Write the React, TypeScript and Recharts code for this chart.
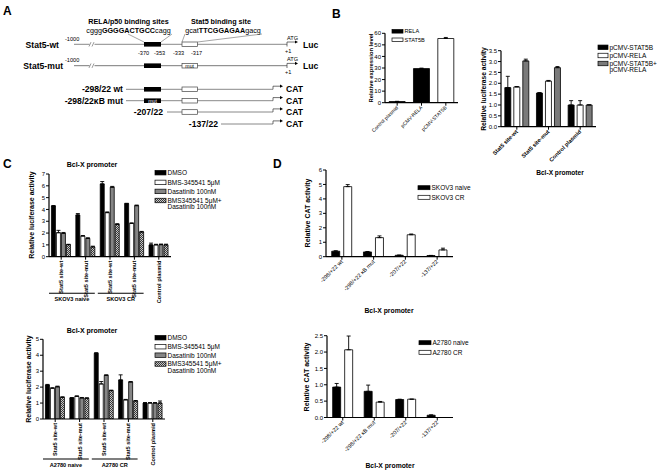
import React from 'react';
import { BarChart, Bar, XAxis, YAxis, ErrorBar, Cell } from 'recharts';

const FONT = 'Arial, "Liberation Sans", Helvetica, sans-serif';

// ---------- Panel B (left): expression ----------
const bLeftCategories = ['Control plasmid', 'pCMV-RELA', 'pCMV-STAT5B'];
const bLeftValues = [1.0, 29.5, 55.5];
const bLeftErrors = [0.2, 0.4, 0.9];
const bLeftTicks = [0, 10, 20, 30, 40, 50, 60];
const bLeftLegend = ['RELA', 'STAT5B'];

// ---------- Panel B (right): luciferase ----------
const bRightCategories = ['Stat5 site-wt', 'Stat5 site-mut', 'Control plasmid'];
const bRightStat5b = [1.8, 1.55, 1.0];
const bRightStat5bErr = [0.52, 0.02, 0.2];
const bRightRela = [1.83, 2.1, 1.0];
const bRightRelaErr = [0.02, 0.03, 0.2];
const bRightBoth = [3.03, 2.72, 1.0];
const bRightBothErr = [0.08, 0.05, 0.01];
const bRightTicks = [0, 0.5, 1, 1.5, 2, 2.5, 3, 3.5];

// ---------- Panel C ----------
const cCategories = ['Stat5 site-wt', 'Stat5 site-mut', 'Stat5 site-wt', 'Stat5 site-mut', 'Control plasmid'];
const cSeriesNames = ['DMSO', 'BMS-345541 5\u03bcM', 'Dasatinib 100nM', 'BMS345541 5\u03bcM+|Dasatinib 100nM'];
const cSkovGroups = ['SKOV3 naive', 'SKOV3 CR'];
const cSkovDmso = [4.29, 3.53, 6.16, 4.49, 1.0];
const cSkovDmsoErr = [0.04, 0.12, 0.2, 0.03, 0.15];
const cSkovBms = [2.03, 1.75, 3.73, 2.82, 1.0];
const cSkovBmsErr = [0.2, 0.04, 0.06, 0.04, 0.05];
const cSkovDas = [1.98, 1.55, 5.88, 4.32, 1.02];
const cSkovDasErr = [0.07, 0.05, 0.07, 0.05, 0.05];
const cSkovCombo = [1.02, 0.83, 2.74, 2.09, 1.0];
const cSkovComboErr = [0.03, 0.06, 0.05, 0.05, 0.06];
const cSkovTicks = [0, 1, 2, 3, 4, 5, 6, 7];

const cA2780Groups = ['A2780 naive', 'A2780 CR'];
const cA2780Dmso = [2.13, 1.32, 4.12, 2.45, 1.0];
const cA2780DmsoErr = [0.04, 0.02, 0.04, 0.32, 0.03];
const cA2780Bms = [1.93, 1.42, 2.2, 1.2, 1.0];
const cA2780BmsErr = [0.03, 0.03, 0.15, 0.03, 0.03];
const cA2780Das = [2.02, 1.32, 2.74, 2.32, 1.0];
const cA2780DasErr = [0.04, 0.03, 0.03, 0.03, 0.03];
const cA2780Combo = [1.36, 1.3, 1.78, 1.13, 1.0];
const cA2780ComboErr = [0.03, 0.03, 0.03, 0.03, 0.13];
const cA2780Ticks = [0, 1, 2, 3, 4, 5];

// ---------- Panel D ----------
const dCategories = ['-298/+22 wt', '-298/+22 \u03baB mut', '-207/+22', '-137/+22'];
const dSkovNames = ['SKOV3 naive', 'SKOV3 CR'];
const dSkovNaive = [0.38, 0.33, 0.1, 0.08];
const dSkovNaiveErr = [0.03, 0.03, 0.01, 0.01];
const dSkovCR = [4.85, 1.32, 1.52, 0.47];
const dSkovCRErr = [0.14, 0.12, 0.05, 0.12];
const dSkovTicks = [0, 1, 2, 3, 4, 5, 6];

const dA2780Names = ['A2780 naive', 'A2780 CR'];
const dA2780Naive = [0.93, 0.8, 0.55, 0.07];
const dA2780NaiveErr = [0.11, 0.19, 0.01, 0.01];
const dA2780CR = [2.07, 0.47, 0.56, 0.0];
const dA2780CRErr = [0.42, 0.02, 0.0, 0.0];
const dA2780Ticks = [0, 0.5, 1, 1.5, 2, 2.5];

const BLACK = '#000000';
const WHITE = '#ffffff';
const GRAY = '#858585';
const CHECK = 'url(#checker)';

type Series = { name: string; values: number[]; errors: number[]; fill: string };

function buildData(n: number, series: Series[]) {
  const rows: any[] = [];
  for (let i = 0; i < n; i++) {
    const row: any = { idx: i };
    series.forEach((s, k) => {
      row['s' + k] = s.values[i];
      row['e' + k] = [0, s.errors[i]];
    });
    rows.push(row);
  }
  return rows;
}

function GroupBarChart(props: any) {
  const { box, plot, yw, xh, n, series, domain, ticks, fmt, tick, catGap, barGap, cellFills } = props;
  const data = buildData(n, series);
  const margin = {
    left: plot.x0 - box.left - yw,
    top: plot.y0 - box.top,
    right: box.left + box.width - plot.x1,
    bottom: box.top + box.height - plot.y1 - xh,
  };
  const axisLine = { stroke: '#000', strokeWidth: 1.2 };
  const tickLine = { stroke: '#000', strokeWidth: 1 };
  return (
    <div style={{ position: 'absolute', left: box.left, top: box.top, width: box.width, height: box.height }}>
      <BarChart width={box.width} height={box.height} data={data} margin={margin} barCategoryGap={catGap} barGap={barGap}>
        <XAxis dataKey="idx" type="category" height={xh} interval={0} tickSize={3} tickMargin={1}
          axisLine={axisLine} tickLine={tickLine} tick={tick} />
        <YAxis type="number" width={yw} domain={domain} ticks={ticks} interval={0} tickSize={3} tickMargin={1}
          axisLine={axisLine} tickLine={tickLine} allowDataOverflow
          tick={{ fill: '#000', fontSize: 6, fontFamily: FONT }} tickFormatter={fmt} />
        {series.map((s: Series, k: number) => (
          <Bar key={k} dataKey={'s' + k} name={s.name} fill={s.fill} stroke="#000" strokeWidth={0.8} isAnimationActive={false}>
            {cellFills ? cellFills.map((f: string, i: number) => <Cell key={i} fill={f} />) : null}
            <ErrorBar dataKey={'e' + k} width={2} stroke="#000" strokeWidth={0.9} direction="y" />
          </Bar>
        ))}
      </BarChart>
    </div>
  );
}

const rotTick = (labels: string[], angle: number, fontSize: number, bold: boolean) => (p: any) => {
  const { x, y, payload } = p;
  return (
    <g transform={`translate(${x},${y})`}>
      <text x={0} y={0} dy={fontSize * 0.35} transform={`rotate(${angle})`} textAnchor="end"
        fontSize={fontSize} fontWeight={bold ? 'bold' : 'normal'} fontFamily={FONT} fill="#000">
        {labels[payload.value]}
      </text>
    </g>
  );
};

const cTick = (labels: string[], groups: string[], half: number, bracketDy: number) => (p: any) => {
  const { x, y, payload } = p;
  const i = payload.value;
  const gi = i === 0 ? 0 : i === 2 ? 1 : -1;
  return (
    <g transform={`translate(${x},${y})`}>
      <text x={0} y={0} dy={2} transform="rotate(-90)" textAnchor="end" fontSize={5.6} fontWeight="bold" fontFamily={FONT} fill="#000">
        {labels[i]}
      </text>
      {gi >= 0 ? (
        <g>
          <line x1={-half} x2={3 * half - 3} y1={bracketDy} y2={bracketDy} stroke="#000" strokeWidth={1.1} />
          <text x={half - 1.5} y={bracketDy + 7.5} textAnchor="middle" fontSize={5.6} fontWeight="bold" fontFamily={FONT} fill="#000">
            {groups[gi]}
          </text>
        </g>
      ) : null}
    </g>
  );
};

function LegendBlock({ x, ys, items, fontSize, swW, swH }: any) {
  return (
    <g>
      {items.map((it: any, i: number) => {
        const lines = it.name.split('|');
        return (
          <g key={i}>
            <rect x={x} y={ys[i] - swH / 2} width={swW} height={swH} fill={it.fill} stroke="#000" strokeWidth={0.7} />
            {lines.map((ln: string, j: number) => (
              <text key={j} x={x + swW + 1.5} y={ys[i] + fontSize * 0.36 + j * fontSize * 1.0} fontSize={fontSize} fill="#000">{ln}</text>
            ))}
          </g>
        );
      })}
    </g>
  );
}

function RotLabel({ x, y, text, size }: any) {
  return (
    <text x={x} y={y} transform={`rotate(-90 ${x} ${y})`} textAnchor="middle" fontSize={size} fontWeight="bold" fill="#000">{text}</text>
  );
}

function Arrow({ x, y, top, len }: any) {
  return (
    <g>
      <path d={`M${x} ${y} V${top} H${x + len}`} fill="none" stroke="#333" strokeWidth={0.7} />
      <polygon points={`${x + len + 3},${top} ${x + len},${top - 1.6} ${x + len},${top + 1.6}`} fill="#000" />
    </g>
  );
}

function Brk({ x, y }: any) {
  return (
    <g>
      <rect x={x - 2.5} y={y - 1.5} width={5} height={3} fill="#fff" />
      <line x1={x - 3} y1={y + 2.2} x2={x - 1} y2={y - 2.2} stroke="#555" strokeWidth={0.6} />
      <line x1={x} y1={y + 2.2} x2={x + 2} y2={y - 2.2} stroke="#555" strokeWidth={0.6} />
    </g>
  );
}

function PanelA() {
  const lc = '#6a6a6a';
  const lab = { fontSize: 8.6, fontWeight: 'bold' as const };
  const small = { fontSize: 5.6 };
  const boxH = 4.6;
  const bk = (y: number) => <rect x={144} y={y - boxH / 2} width={17} height={boxH} fill="#000" />;
  const wb = (y: number) => <rect x={182} y={y - boxH / 2} width={15.5} height={boxH} fill="#fff" stroke="#444" strokeWidth={0.7} />;
  return (
    <g>
      <text x={3} y={15} fontSize={12} fontWeight="bold">A</text>
      <text x={128.5} y={24} textAnchor="middle" fontSize={7.2} fontWeight="bold">RELA/p50 binding sites</text>
      <text x={128.5} y={32.5} textAnchor="middle" fontSize={7.2}>cggg<tspan fontWeight="bold">GGGGACTGCC</tspan>cagg</text>
      <text x={221} y={24} textAnchor="middle" fontSize={7.2} fontWeight="bold">Stat5 binding site</text>
      <text x={223} y={32.5} textAnchor="middle" fontSize={7.2}>gcat<tspan fontWeight="bold">TTCGGAGAA</tspan>gacg</text>
      <line x1={128} y1={34} x2={144} y2={42} stroke={lc} strokeWidth={0.6} />
      <line x1={172} y1={34} x2={161} y2={42} stroke={lc} strokeWidth={0.6} />
      <line x1={185} y1={34} x2={182} y2={42} stroke={lc} strokeWidth={0.6} />
      <line x1={262} y1={34} x2={197.5} y2={42} stroke={lc} strokeWidth={0.6} />

      {/* Stat5-wt */}
      <text x={59} y={47.5} textAnchor="end" {...lab}>Stat5-wt</text>
      <text x={65} y={41} {...small}>-1000</text>
      <line x1={74} y1={44.3} x2={287} y2={44.3} stroke={lc} strokeWidth={0.8} />
      <Brk x={92} y={44.3} />
      {bk(44.3)}
      {wb(44.3)}
      <text x={138} y={55} {...small}>-370</text>
      <text x={154} y={55} {...small}>-353</text>
      <text x={173} y={55} {...small}>-333</text>
      <text x={191} y={55} {...small}>-317</text>
      <text x={287} y={40} {...small}>ATG</text>
      <Arrow x={287} y={46.5} top={42} len={8} />
      <text x={285} y={52.5} {...small}>+1</text>
      <text x={303} y={48} {...lab}>Luc</text>

      {/* Stat5-mut */}
      <text x={63} y={68.7} textAnchor="end" {...lab}>Stat5-mut</text>
      <text x={65} y={62} {...small}>-1000</text>
      <line x1={74} y1={65.7} x2={287} y2={65.7} stroke="#555" strokeWidth={0.8} />
      <Brk x={92} y={65.7} />
      {bk(65.7)}
      {wb(65.7)}
      <text x={189.7} y={67.7} textAnchor="middle" fontSize={5.2}>mut</text>
      <text x={287} y={61.3} {...small}>ATG</text>
      <Arrow x={287} y={68} top={63.4} len={8} />
      <text x={285} y={74} {...small}>+1</text>
      <text x={303} y={69.3} {...lab}>Luc</text>

      {/* CAT constructs */}
      <text x={123} y={92.3} textAnchor="end" {...lab}>-298/22 wt</text>
      <line x1={126} y1={89.3} x2={273} y2={89.3} stroke={lc} strokeWidth={0.8} />
      {bk(89.3)}
      {wb(89.3)}
      <Arrow x={273} y={89.3} top={86.2} len={7} />
      <text x={286} y={92.3} {...lab}>CAT</text>

      <text x={123} y={103.7} textAnchor="end" {...lab}>-298/22<tspan>{'\u03ba'}</tspan>B mut</text>
      <line x1={126} y1={100.7} x2={273} y2={100.7} stroke={lc} strokeWidth={0.8} />
      {bk(100.7)}
      <text x={152.5} y={102.6} textAnchor="middle" fontSize={5.2} fill="#fff">mut</text>
      {wb(100.7)}
      <Arrow x={273} y={100.7} top={97.6} len={7} />
      <text x={286} y={103.7} {...lab}>CAT</text>

      <text x={163} y={115} textAnchor="end" {...lab}>-207/22</text>
      <line x1={167} y1={112} x2={273} y2={112} stroke={lc} strokeWidth={0.8} />
      {wb(112)}
      <Arrow x={273} y={112} top={108.9} len={7} />
      <text x={286} y={115} {...lab}>CAT</text>

      <text x={218} y={127} textAnchor="end" {...lab}>-137/22</text>
      <line x1={221} y1={124} x2={273} y2={124} stroke={lc} strokeWidth={0.8} />
      <Arrow x={273} y={124} top={120.9} len={7} />
      <text x={286} y={127} {...lab}>CAT</text>
    </g>
  );
}

export default function App() {
  const bRightSeries: Series[] = [
    { name: 'pCMV-STAT5B', values: bRightStat5b, errors: bRightStat5bErr, fill: BLACK },
    { name: 'pCMV-RELA', values: bRightRela, errors: bRightRelaErr, fill: WHITE },
    { name: 'pCMV-STAT5B+|pCMV-RELA', values: bRightBoth, errors: bRightBothErr, fill: '#7a7a7a' },
  ];
  const cFills = [BLACK, WHITE, GRAY, CHECK];
  const cSkovSeries: Series[] = [
    { name: cSeriesNames[0], values: cSkovDmso, errors: cSkovDmsoErr, fill: cFills[0] },
    { name: cSeriesNames[1], values: cSkovBms, errors: cSkovBmsErr, fill: cFills[1] },
    { name: cSeriesNames[2], values: cSkovDas, errors: cSkovDasErr, fill: cFills[2] },
    { name: cSeriesNames[3], values: cSkovCombo, errors: cSkovComboErr, fill: cFills[3] },
  ];
  const cA2780Series: Series[] = [
    { name: cSeriesNames[0], values: cA2780Dmso, errors: cA2780DmsoErr, fill: cFills[0] },
    { name: cSeriesNames[1], values: cA2780Bms, errors: cA2780BmsErr, fill: cFills[1] },
    { name: cSeriesNames[2], values: cA2780Das, errors: cA2780DasErr, fill: cFills[2] },
    { name: cSeriesNames[3], values: cA2780Combo, errors: cA2780ComboErr, fill: cFills[3] },
  ];
  const dSkovSeries: Series[] = [
    { name: dSkovNames[0], values: dSkovNaive, errors: dSkovNaiveErr, fill: BLACK },
    { name: dSkovNames[1], values: dSkovCR, errors: dSkovCRErr, fill: WHITE },
  ];
  const dA2780Series: Series[] = [
    { name: dA2780Names[0], values: dA2780Naive, errors: dA2780NaiveErr, fill: BLACK },
    { name: dA2780Names[1], values: dA2780CR, errors: dA2780CRErr, fill: WHITE },
  ];

  const cTopPlot = { x0: 49, y0: 174, x1: 171, y1: 256.7 };
  const cBotPlot = { x0: 43, y0: 339.3, x1: 165, y1: 419 };
  const cHalf = (cTopPlot.x1 - cTopPlot.x0) / cCategories.length / 2;

  return (
    <div style={{ position: 'absolute', left: 0, top: 0, width: 662, height: 476, background: '#fff', fontFamily: FONT, overflow: 'hidden' }}>
      <svg width={0} height={0} style={{ position: 'absolute' }}>
        <defs>
          <pattern id="checker" patternUnits="userSpaceOnUse" width={2} height={2}>
            <rect x={0} y={0} width={2} height={2} fill="#c8c8c8" />
            <rect x={0} y={0} width={1} height={1} fill="#3a3a3a" />
            <rect x={1} y={1} width={1} height={1} fill="#3a3a3a" />
          </pattern>
        </defs>
      </svg>

      {/* B left */}
      <GroupBarChart box={{ left: 360, top: 20, width: 110, height: 140 }} plot={{ x0: 385, y0: 33.3, x1: 458, y1: 102.7 }}
        yw={14} xh={40} n={bLeftCategories.length}
        series={[{ name: 'expression', values: bLeftValues, errors: bLeftErrors, fill: BLACK }]}
        cellFills={[BLACK, BLACK, WHITE]}
        domain={[0, 60]} ticks={bLeftTicks} catGap="17%" barGap={2}
        tick={rotTick(bLeftCategories, -45, 5, false)} />

      {/* B right */}
      <GroupBarChart box={{ left: 470, top: 40, width: 192, height: 140 }} plot={{ x0: 501, y0: 50.7, x1: 596, y1: 126.7 }}
        yw={18} xh={40} n={bRightCategories.length} series={bRightSeries}
        domain={[0, 3.5]} ticks={bRightTicks} fmt={(v: number) => v.toFixed(1)} catGap="12%" barGap={3}
        tick={rotTick(bRightCategories, -45, 5.6, true)} />

      {/* C top */}
      <GroupBarChart box={{ left: 15, top: 160, width: 245, height: 150 }} plot={cTopPlot}
        yw={12} xh={50} n={cCategories.length} series={cSkovSeries}
        domain={[0, 7]} ticks={cSkovTicks} catGap="10%" barGap={1}
        tick={cTick(cCategories, cSkovGroups, cHalf, 32.6)} />

      {/* C bottom */}
      <GroupBarChart box={{ left: 15, top: 325, width: 245, height: 151 }} plot={cBotPlot}
        yw={12} xh={52} n={cCategories.length} series={cA2780Series}
        domain={[0, 5]} ticks={cA2780Ticks} catGap="10%" barGap={1}
        tick={cTick(cCategories, cA2780Groups, cHalf, 36)} />

      {/* D top */}
      <GroupBarChart box={{ left: 290, top: 160, width: 200, height: 165 }} plot={{ x0: 326, y0: 170, x1: 453, y1: 256.7 }}
        yw={12} xh={55} n={dCategories.length} series={dSkovSeries}
        domain={[0, 6]} ticks={dSkovTicks} catGap="18%" barGap={4}
        tick={rotTick(dCategories, -45, 5.6, false)} />

      {/* D bottom */}
      <GroupBarChart box={{ left: 290, top: 325, width: 200, height: 151 }} plot={{ x0: 327, y0: 335.7, x1: 453, y1: 417.5 }}
        yw={16} xh={50} n={dCategories.length} series={dA2780Series}
        domain={[0, 2.5]} ticks={dA2780Ticks} fmt={(v: number) => v.toFixed(1)} catGap="18%" barGap={4}
        tick={rotTick(dCategories, -45, 5.6, false)} />

      <svg width={662} height={476} style={{ position: 'absolute', left: 0, top: 0, pointerEvents: 'none' }} fontFamily={FONT}>
        <PanelA />
        <text x={332} y={18} fontSize={12} fontWeight="bold">B</text>
        <text x={3} y={168} fontSize={12} fontWeight="bold">C</text>
        <text x={273} y={168} fontSize={12} fontWeight="bold">D</text>

        {/* B left */}
        <RotLabel x={372.5} y={68} text="Relative expression level" size={5.8} />
        <LegendBlock x={392} ys={[31.3, 39.8]} fontSize={5.6} swW={11} swH={3.6}
          items={[{ name: bLeftLegend[0], fill: BLACK }, { name: bLeftLegend[1], fill: WHITE }]} />

        {/* B right */}
        <RotLabel x={486} y={89} text="Relative luciferase activity" size={6.7} />
        <LegendBlock x={598} ys={[47.3, 55.5, 63.5]} fontSize={6.5} swW={10} swH={4.5} items={bRightSeries} />
        <text x={560} y={175} textAnchor="middle" fontSize={6.6} fontWeight="bold">Bcl-X promoter</text>

        {/* C top */}
        <text x={92} y={166.5} textAnchor="middle" fontSize={7} fontWeight="bold">Bcl-X promoter</text>
        <RotLabel x={34} y={215} text="Relative luciferase activity" size={7} />
        <LegendBlock x={155} ys={[172.7, 182.4, 191.4, 200.5]} fontSize={6.5} swW={11} swH={4.5} items={cSkovSeries} />

        {/* C bottom */}
        <text x={92} y={333} textAnchor="middle" fontSize={7} fontWeight="bold">Bcl-X promoter</text>
        <RotLabel x={31} y={379} text="Relative luciferase activity" size={7} />
        <LegendBlock x={155} ys={[337.7, 346.7, 355.2, 364]} fontSize={6.5} swW={11} swH={4.5} items={cA2780Series} />

        {/* D top */}
        <RotLabel x={310} y={213} text="Relative CAT activity" size={7} />
        <LegendBlock x={418} ys={[187.7, 197.3]} fontSize={6.5} swW={12} swH={4} items={dSkovSeries} />
        <text x={389} y={313} textAnchor="middle" fontSize={6.8} fontWeight="bold">Bcl-X promoter</text>

        {/* D bottom */}
        <RotLabel x={309} y={377} text="Relative CAT activity" size={7} />
        <LegendBlock x={419} ys={[342.7, 352.3]} fontSize={6.5} swW={12} swH={4} items={dA2780Series} />
        <text x={390} y={467.5} textAnchor="middle" fontSize={6.8} fontWeight="bold">Bcl-X promoter</text>
      </svg>
    </div>
  );
}
